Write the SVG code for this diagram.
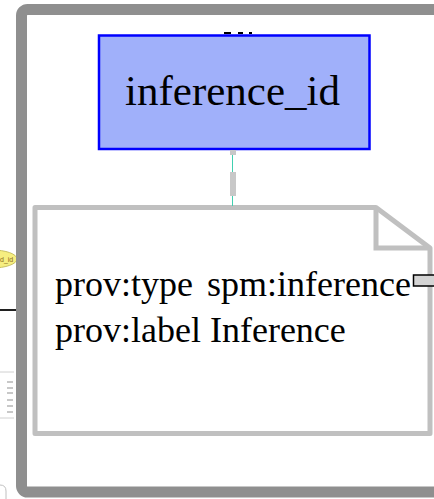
<svg xmlns="http://www.w3.org/2000/svg" width="434" height="499" viewBox="0 0 434 499">
<style>
.serif{font-family:"Liberation Serif","Times New Roman",serif;fill:#000}
.tiny{font-family:"Liberation Sans",Arial,sans-serif;font-size:7px;fill:#8a6a20}
</style>
<rect x="0" y="0" width="434" height="499" fill="#ffffff"/>
<g id="outside">
<ellipse cx="-8" cy="259" rx="25" ry="9" fill="#f6ee80" stroke="#c8c060" stroke-width="1"/>
<text class="tiny" x="0" y="262">d_id</text>
<line x1="0" y1="310" x2="16" y2="310" stroke="#202020" stroke-width="2"/>
<line x1="0" y1="372" x2="14" y2="372" stroke="#d0d0d0" stroke-width="1"/>
<line x1="0" y1="418" x2="14" y2="418" stroke="#d0d0d0" stroke-width="1"/>
<g stroke="#c8c8c8" stroke-width="2">
<line x1="7" y1="382" x2="13" y2="382"/>
<line x1="7" y1="388" x2="13" y2="388"/>
<line x1="7" y1="393" x2="13" y2="393"/>
<line x1="7" y1="400" x2="13" y2="400"/>
<line x1="7" y1="406" x2="13" y2="406"/>
<line x1="7" y1="412" x2="13" y2="412"/>
</g>
<path d="M0,485 Q6,485 6,491 L6,499" fill="none" stroke="#c0c0c0" stroke-width="1"/>
</g>
<g id="frame">
<rect x="21.5" y="9.5" width="430" height="482.5" rx="6" fill="none" stroke="#8f8f8f" stroke-width="11"/>
</g>
<g id="inference_id">
<rect x="224" y="32" width="7" height="2" fill="#000"/>
<rect x="238" y="32" width="5" height="2" fill="#000"/>
<rect x="249" y="32" width="3" height="2" fill="#000"/>
<rect x="99" y="35.5" width="270.5" height="113.5" fill="#a0b0fa" stroke="#0000ff" stroke-width="2.5"/>
<text class="serif" x="232.5" y="105" font-size="43" text-anchor="middle">inference_id</text>
</g>
<g id="note">
<path d="M35,207.5 L376,207.5 L430,248 L430,433.5 L35,433.5 Z" fill="#ffffff" stroke="#c0c0c0" stroke-width="5" stroke-linejoin="round"/>
<path d="M376,207.5 L376,248 L430,248" fill="none" stroke="#c0c0c0" stroke-width="5"/>
<text class="serif" x="55" y="296" font-size="36" word-spacing="5">prov:type spm:inference</text>
<text class="serif" x="55" y="342" font-size="36">prov:label Inference</text>
</g>
<g id="connectors">
<line x1="232.5" y1="150" x2="232.5" y2="206" stroke="#40d0b0" stroke-width="1"/>
<rect x="230" y="150" width="6" height="5" fill="#c8c8c8"/>
<rect x="230" y="172" width="6" height="24" fill="#c8c8c8"/>
<rect x="413.5" y="275" width="24" height="11" fill="#d4d4d4" stroke="#000" stroke-width="1.5"/>
</g>
</svg>
